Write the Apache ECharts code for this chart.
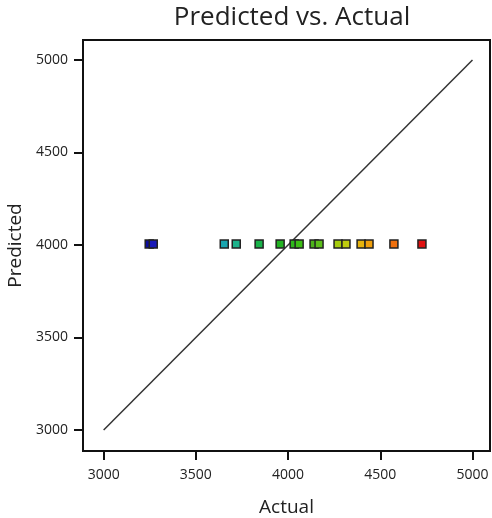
<!DOCTYPE html>
<html>
<head>
<meta charset="utf-8">
<script src="https://cdn.jsdelivr.net/npm/echarts@6/dist/echarts.min.js"></script>
<style>
  html, body { margin: 0; padding: 0; background: #fff; }
  #chart { width: 492px; height: 518px; }
</style>
</head>
<body>
<div id="chart"></div>
<script>
// actual values (x), predicted values (y)
const actual = [3247, 3269, 3654, 3719, 3843, 3957, 4033, 4060, 4141, 4168, 4271, 4314, 4396, 4439, 4574, 4726];
const predicted = [4005, 4005, 4005, 4005, 4005, 4005, 4005, 4005, 4005, 4005, 4005, 4005, 4005, 4005, 4005, 4005];
const pointColors = ['#0d0d9e', '#1a1ab8', '#19a6b0', '#1cb38c', '#19b34a', '#22b322', '#2db81a', '#3cbf14',
  '#4cb31a', '#5cbf1a', '#a6cc0d', '#bfcc0d', '#e6b30d', '#f0a00d', '#f0700d', '#e01010'];
const tickValues = [3000, 3500, 4000, 4500, 5000];
const refLine = [[3000, 3000], [5000, 5000]];

const font = '"Open Sans", "Noto Sans", sans-serif';
const chart = echarts.init(document.getElementById('chart'));

const axisCommon = {
  type: 'value',
  nameLocation: 'middle',
  nameTextStyle: { fontFamily: font, fontSize: 19, color: '#222' },
  axisLine: { show: true, lineStyle: { color: '#111', width: 2 } },
  axisTick: { show: true, inside: false, length: 9, customValues: tickValues, lineStyle: { color: '#111', width: 2 } },
  axisLabel: { customValues: tickValues, formatter: v => String(v), fontFamily: font, fontSize: 14, color: '#222' },
  splitLine: { show: false }
};

chart.setOption({
  animation: false,
  title: {
    text: 'Predicted vs. Actual',
    left: 287, top: 0, textAlign: 'center',
    textStyle: { fontFamily: font, fontSize: 26, fontWeight: 'normal', color: '#222' }
  },
  grid: {
    left: 83, right: 2, top: 40, bottom: 67,
    outerBoundsMode: 'none', containLabel: false,
    show: true, borderColor: '#111', borderWidth: 2
  },
  xAxis: Object.assign({}, axisCommon, {
    name: 'Actual', min: 2888, max: 5095, nameGap: 47,
    axisLabel: Object.assign({}, axisCommon.axisLabel, { margin: 17 })
  }),
  yAxis: Object.assign({}, axisCommon, {
    name: 'Predicted', min: 2886, max: 5108, nameGap: 58,
    axisLabel: Object.assign({}, axisCommon.axisLabel, { margin: 15 })
  }),
  series: [
    {
      type: 'line',
      data: refLine,
      symbol: 'none',
      lineStyle: { color: '#333', width: 1.5 },
      z: 1
    },
    {
      type: 'scatter',
      symbol: 'rect',
      symbolSize: 8,
      data: actual.map((v, i) => ({
        value: [v, predicted[i]],
        itemStyle: { color: pointColors[i] }
      })),
      itemStyle: { borderColor: '#222', borderWidth: 1.5, opacity: 1 },
      z: 2
    }
  ]
});
</script>
</body>
</html>
